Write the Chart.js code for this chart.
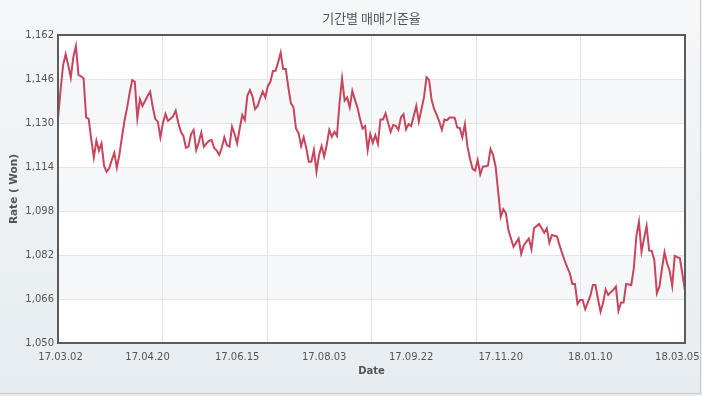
<!DOCTYPE html>
<html>
<head>
<meta charset="utf-8">
<script src="https://cdn.jsdelivr.net/npm/chart.js@4/dist/chart.umd.min.js"></script>
<style>
  html, body { margin: 0; padding: 0; background: #fff; }
  #wrap { width: 702px; height: 396px; }
</style>
</head>
<body>
<div id="wrap"><canvas id="rateChart" width="702" height="396"></canvas></div>
<script>
// daily base rate (KRW per USD), 17.03.02 ~ 18.03.05
const rates = [
  1131.7, 1142, 1151, 1155, 1151, 1146.5, 1154, 1158, 1147.5, 1147,
  1146.3, 1132, 1131.5, 1124, 1117.5, 1123.6, 1120, 1122.6, 1114.5, 1112.3,
  1113.5, 1116.5, 1119.2, 1113.8, 1118.5, 1125, 1131, 1135.5, 1141, 1145.6,
  1145, 1131.7, 1138.6, 1136.2, 1138, 1139.8, 1141.4, 1136, 1131.5, 1130.5,
  1124.8, 1130, 1133.3, 1130.8, 1131.5, 1132.5, 1134.5, 1130, 1126.8, 1125.3,
  1121, 1121.4, 1126, 1127.5, 1120.2, 1123, 1126.5, 1121.4, 1122.5, 1123.5,
  1123.8, 1121, 1120, 1118.4, 1121, 1124.8, 1122, 1121.4, 1128.7, 1126,
  1122.6, 1128, 1132.9, 1131.1, 1140, 1142, 1139.6, 1135, 1136.2, 1139,
  1141.4, 1139.3, 1143.5, 1145, 1148.9, 1149, 1152, 1155.6, 1149.6, 1149.6,
  1143, 1137.2, 1135.7, 1128, 1126.3, 1121.6, 1124.8, 1121, 1115.9, 1115.9,
  1120.2, 1112.3, 1118.4, 1121.6, 1117.8, 1122, 1127.5, 1125, 1126.8, 1125.3,
  1137.2, 1146.1, 1138.1, 1139.3, 1135.7, 1141.7, 1138.5, 1135.7, 1131.5, 1128,
  1128.9, 1120.2, 1126, 1122.8, 1125.6, 1122.4, 1131.3, 1131.3, 1133.5, 1130,
  1126.8, 1129.3, 1129, 1127.5, 1132, 1133.2, 1127.7, 1129.6, 1128.9, 1132.5,
  1136.2, 1130.5, 1135, 1139.3, 1146.6, 1145.6, 1138.4, 1135, 1132.9, 1130.5,
  1127.5, 1131.3, 1131, 1132, 1132, 1131.9, 1128.4, 1128.2, 1124.8, 1129.6,
  1121.4, 1117, 1113.3, 1112.7, 1116.5, 1111.3, 1114.1, 1114.3, 1114.5, 1120.5,
  1118.4, 1114.1, 1105, 1095.9, 1098.6, 1097.2, 1091.1, 1088, 1085, 1086.5,
  1088, 1082.4, 1085.5, 1086.8, 1088, 1084.1, 1091.7, 1092.5, 1093.3, 1091.7,
  1090.1, 1091.7, 1086.5, 1089.3, 1089, 1088.7, 1085.5, 1082.6, 1079.9, 1077.5,
  1075.3, 1071.5, 1071.5, 1064.2, 1065.6, 1065.6, 1062.3, 1064.7, 1067.1, 1071.1,
  1071.1, 1066, 1061.4, 1064.7, 1069.5, 1067.5, 1068.5, 1069.3, 1070.5, 1061.7,
  1064.7, 1064.7, 1071.5, 1071.3, 1071.1, 1077.2, 1088.9, 1094.1, 1083.2, 1088,
  1092.5, 1083.6, 1083.5, 1080.2, 1068.1, 1070.5, 1077, 1083, 1079, 1076.3,
  1070.8, 1081.7, 1081.2, 1080.8, 1075, 1069
];

// date labels shown under the axis and the point index each one sits on
const tickLabels = ['17.03.02', '17.04.20', '17.06.15', '17.08.03', '17.09.22', '17.11.20', '18.01.10', '18.03.05'];
const tickIndex = [1, 35, 70, 104, 138, 173, 208, 242];

const yMin = 1050;
const yMax = 1162;
const yStep = 16;

const lastIdx = rates.length - 1;
const gridCount = 6; // vertical grid lines split the plot into 6

const frame = {
  id: 'frame',
  beforeDraw(chart) {
    const { ctx, chartArea: a, scales } = chart;
    ctx.save();
    // page background
    const g = ctx.createLinearGradient(0, 0, 0, chart.height);
    g.addColorStop(0, '#f5f7f9');
    g.addColorStop(1, '#e6ecf0');
    ctx.fillStyle = g;
    ctx.fillRect(0, 0, chart.width, chart.height);
    ctx.strokeStyle = '#c6c9cc';
    ctx.lineWidth = 1;
    ctx.beginPath();
    ctx.moveTo(0, chart.height - 2.5);
    ctx.lineTo(chart.width - 1.5, chart.height - 2.5);
    ctx.lineTo(chart.width - 1.5, 0);
    ctx.stroke();
    // plot area with alternating bands
    ctx.fillStyle = '#ffffff';
    ctx.fillRect(a.left, a.top, a.right - a.left, a.bottom - a.top);
    const y = scales.y;
    ctx.fillStyle = '#f6f7f9';
    let k = 0;
    for (let v = yMax; v > yMin; v -= yStep) {
      if (k % 2 === 1) {
        const t = y.getPixelForValue(v);
        const b = y.getPixelForValue(v - yStep);
        ctx.fillRect(a.left, t, a.right - a.left, b - t);
      }
      k++;
    }
    ctx.restore();
  },
  afterDraw(chart) {
    const { ctx, chartArea: a } = chart;
    ctx.save();
    ctx.strokeStyle = '#5c5c5c';
    ctx.lineWidth = 2;
    ctx.strokeRect(a.left, a.top, a.right - a.left, a.bottom - a.top);
    ctx.restore();
  }
};

const tickFont = { family: 'DejaVu Sans', size: 10 };

new Chart(document.getElementById('rateChart'), {
  type: 'line',
  data: {
    datasets: [{
      label: '매매기준율',
      data: rates.map((v, i) => ({ x: i, y: v })),
      borderColor: '#c8455c',
      borderWidth: 2,
      pointRadius: 0,
      tension: 0,
      fill: false
    }]
  },
  options: {
    responsive: false,
    devicePixelRatio: 1,
    animation: false,
    layout: { padding: { left: 0, right: 17, top: 0, bottom: 0 } },
    plugins: {
      legend: { display: false },
      tooltip: { enabled: false },
      title: {
        display: true,
        text: '기간별 매매기준율',
        fullSize: false,
        color: '#555',
        font: { family: 'Noto Sans CJK KR', size: 13, weight: 'normal' },
        padding: { top: 10, bottom: 9.4 }
      }
    },
    scales: {
      x: {
        type: 'linear',
        position: 'bottom',
        min: 0,
        max: lastIdx,
        grid: { display: false, drawTicks: false },
        border: { display: false },
        afterBuildTicks: s => { s.ticks = tickIndex.map(v => ({ value: v })); },
        afterFit: s => {
          s.height = 53;
          s.paddingLeft = 0;
          s.paddingRight = 0;
        },
        ticks: {
          autoSkip: false,
          maxRotation: 0,
          padding: 8,
          color: '#555',
          font: tickFont,
          callback: (v, i) => tickLabels[i]
        },
        title: {
          display: true,
          text: 'Date',
          color: '#555',
          font: { family: 'DejaVu Sans', size: 10, weight: 'bold' },
          padding: { top: 3, bottom: 19 }
        }
      },
      xGrid: {
        type: 'linear',
        position: 'bottom',
        min: 0,
        max: lastIdx,
        afterBuildTicks: s => {
          const t = [];
          for (let k = 0; k <= gridCount; k++) t.push({ value: k * lastIdx / gridCount });
          s.ticks = t;
        },
        afterFit: s => {
          s.height = 0;
          s.paddingLeft = 0;
          s.paddingRight = 0;
        },
        grid: { color: '#e3e5e8', drawTicks: false },
        border: { display: false },
        ticks: { display: false }
      },
      y: {
        min: yMin,
        max: yMax,
        afterFit: s => {
          s.width = 58;
          s.paddingTop = 0;
          s.paddingBottom = 0;
        },
        grid: { color: '#e3e5e8', drawTicks: false },
        border: { display: false },
        ticks: {
          stepSize: yStep,
          padding: 4,
          color: '#555',
          font: tickFont,
          callback: v => v.toLocaleString('en-US')
        },
        title: {
          display: true,
          text: 'Rate ( Won)',
          color: '#555',
          font: { family: 'DejaVu Sans', size: 10.5, weight: 'bold' },
          padding: { top: 8, bottom: 0 }
        }
      }
    }
  },
  plugins: [frame]
});
</script>
</body>
</html>
